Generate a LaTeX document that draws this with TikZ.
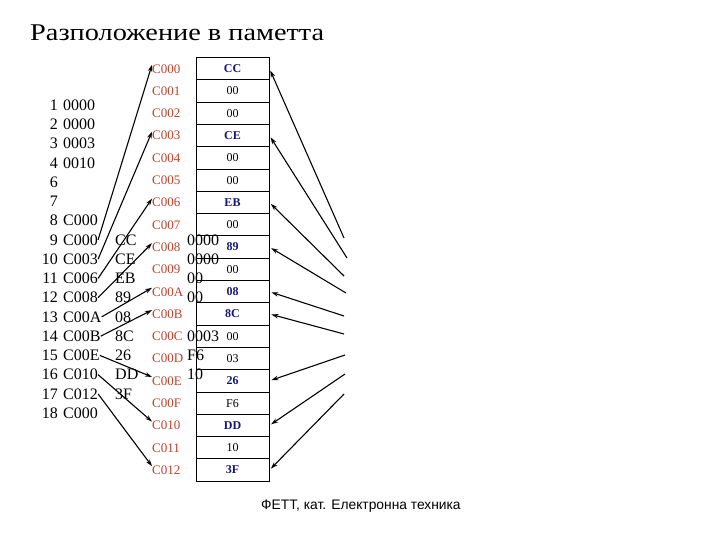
\documentclass[tikz,border=0pt]{standalone}
\usepackage{fontspec}
\setmainfont{Liberation Serif}
\newfontfamily\footfont{Liberation Sans}
\usetikzlibrary{arrows.meta,calc}
\definecolor{lblred}{RGB}{196,62,40}
\definecolor{valblue}{RGB}{22,22,120}
\tikzset{
  cell/.style={draw=black,line width=0.9pt,minimum width=73pt,minimum height=22.3pt,inner sep=0pt,font=\fontsize{12}{12}\selectfont},
  hv/.style={text=valblue,font=\fontsize{12}{12}\selectfont\bfseries},
  nv/.style={text=black},
  lbl/.style={text=lblred,inner sep=0pt,anchor=base west,font=\fontsize{13}{13}\selectfont},
  lst/.style={inner sep=0pt,font=\fontsize{16}{16}\selectfont},
  arr/.style={line width=1.1pt,-{Stealth[length=7pt,width=4.5pt]}},
}
\begin{document}
\begin{tikzpicture}[x=1pt,y=-1pt]
\useasboundingbox (0,0) rectangle (720,540);
% title
\node[anchor=base west,inner sep=0pt,font=\fontsize{24}{24}\selectfont] (title) at (30,41) {\scalebox{1.18}[1]{Разположение в паметта}};
% memory table
\foreach \i/\v/\s in {0/CC/hv,1/00/nv,2/00/nv,3/CE/hv,4/00/nv,5/00/nv,6/EB/hv,7/00/nv,8/89/hv,9/00/nv,10/08/hv,11/8C/hv,12/00/nv,13/03/nv,14/26/hv,15/F6/nv,16/DD/hv,17/10/nv,18/3F/hv}
  \node[cell,\s] (r\i) at (232.5,{68.65+22.3*\i}) {\v};
% address labels
\foreach \i/\t in {0/C000,1/C001,2/C002,3/C003,4/C004,5/C005,6/C006,7/C007,8/C008,9/C009,10/C00A,11/C00B,12/C00C,13/C00D,14/C00E,15/C00F,16/C010,17/C011,18/C012}
  \node[lbl] (l\i) at (152,{68.65+22.3*\i+4.4}) {\t};
% listing
\foreach \j/\n/\a in {0/1/0000,1/2/0000,2/3/0003,3/4/0010,4/6/,5/7/,6/8/C000,7/9/C000,8/10/C003,9/11/C006,10/12/C008,11/13/C00A,12/14/C00B,13/15/C00E,14/16/C010,15/17/C012,16/18/C000}{
  \node[lst,anchor=base east] (n\j) at (58,{105+19.25*\j+5.4}) {\n};
  \node[lst,anchor=base west] (a\j) at (63,{105+19.25*\j+5.4}) {\a};
}
\foreach \j/\t in {7/CC,8/CE,9/EB,10/89,11/08,12/8C,13/26,14/DD,15/3F}
  \node[lst,anchor=base west] (b\j) at (115,{105+19.25*\j+5.4}) {\t};
\foreach \j/\t in {7/0000,8/0000,9/00,10/00,12/0003,13/F6,14/10}
  \node[lst,anchor=base west] (d\j) at (187,{105+19.25*\j+5.4}) {\t};
% left arrows
\foreach \j/\i in {7/0,8/3,9/6,10/8,11/10,12/11,13/14,14/16,15/18}
  \draw[arr] (a\j.east) -- ($(l\i.west)+(0,-4)$);
% right arrows
\foreach \k/\x/\y/\i in {7/344/238/0,8/347/258/3,9/344/276/6,10/346/293/8,11/344/316/10,12/344/334/11,13/345/355/14,14/345/374/16,15/344/394/18}{
  \coordinate (c\k) at (\x,\y);
  \draw[arr,shorten >=2pt] (c\k) -- (r\i.east);
}
% footer
\node[anchor=base west,inner sep=0pt,font=\footfont\fontsize{13.8}{14}\selectfont] (foot) at (261,509) {ФЕТТ, кат. Електронна техника};
\end{tikzpicture}
\end{document}
